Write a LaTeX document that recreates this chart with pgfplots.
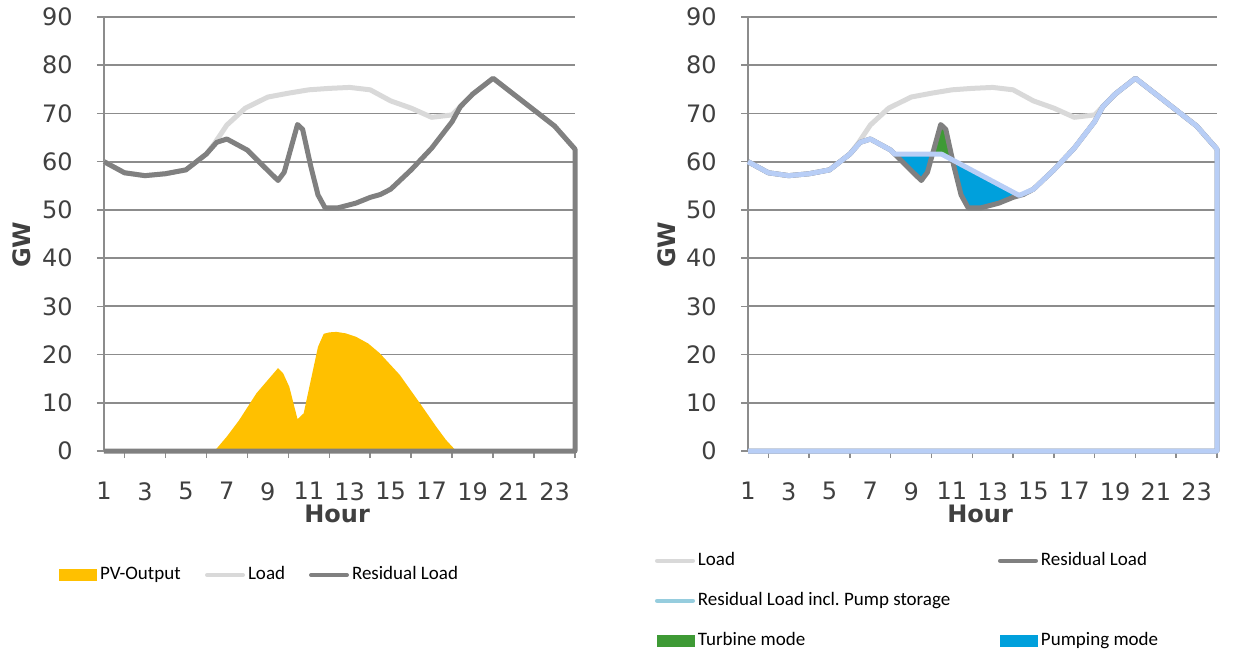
\documentclass[border=0pt]{standalone}
\usepackage{fontspec}
\setmainfont{DejaVu Sans}
\newfontfamily\legfont{Carlito}
\usepackage{pgfplots}
\pgfplotsset{compat=1.18}
\usepackage{pgfplotstable}

\definecolor{gridgray}{RGB}{140,140,140}
\definecolor{ticktext}{RGB}{64,64,64}
\definecolor{residgray}{RGB}{128,128,128}
\definecolor{loadgray}{RGB}{217,217,217}
\definecolor{pvyellow}{RGB}{255,192,0}
\definecolor{pumpline}{RGB}{184,206,246}
\definecolor{pumpleg}{RGB}{150,205,222}
\definecolor{turbgreen}{RGB}{62,154,53}
\definecolor{pumpblue}{RGB}{0,160,220}

% residual load (GW), last two rows close the line along the axis
\pgfplotstableread{
h    gw
1    60.0
2    57.7
3    57.1
4    57.5
5    58.3
6    61.6
6.5  64.0
7    64.7
8    62.4
8.8  59.0
9.5  56.1
9.8  57.8
10.45 67.7
10.7 66.7
11.1 59.0
11.45 53.1
11.8 50.4
12.4 50.4
13.3 51.4
14   52.6
14.5 53.2
15   54.3
16   58.3
17   62.8
18   68.3
18.4 71.4
19   74.0
20   77.3
21   74.0
22   70.7
23   67.4
24   62.6
24   0
1    0
}\resid

\pgfplotstableread{
h    gw
1    60.0
2    57.7
3    57.1
4    57.5
5    58.3
6    61.6
6.4  63.8
7    67.6
7.9  71.1
9    73.4
10   74.2
11   74.9
12   75.2
13   75.4
14   74.9
15   72.6
16   71.1
17   69.2
18   69.7
18.4 71.4
19   74.0
20   77.3
21   74.0
22   70.7
23   67.4
24   62.6
}\load

\pgfplotstableread{
h    gw
1    0
6.4  0
7    3.0
7.6  6.4
8.45 12.0
9.5  17.2
9.75 16.1
10.05 13.3
10.45 6.6
10.75 7.8
11.45 21.6
11.73 24.3
12.0 24.6
12.35 24.7
12.8 24.4
13.3 23.7
13.9 22.3
14.46 20.3
15.44 15.8
16.41 10.0
17.23 5.0
17.7 2.3
18.2 0
24   0
}\pv

% residual load incl. pump storage
\pgfplotstableread{
h    gw
1    60.0
2    57.7
3    57.1
4    57.5
5    58.3
6    61.6
6.5  64.0
7    64.7
8    62.4
8.2  61.55
10.5 61.55
14.3 53.0
15   54.3
16   58.3
17   62.8
18   68.3
18.4 71.4
19   74.0
20   77.3
21   74.0
22   70.7
23   67.4
24   62.6
24   0
1    0
}\pump

\pgfplotsset{
  lineleg/.style={legend image code/.code={%
      \draw[##1, line width=2pt, line cap=round] (0pt,0pt) -- (18pt,0pt);}},
  arealeg/.style={legend image code/.code={%
      \fill[##1, draw=none] (0pt,-3pt) rectangle (19pt,3pt);}},
  basech/.style={
    scale only axis, height=217pt,
    xmin=1, xmax=24, ymin=0, ymax=90,
    axis x line=bottom, axis y line=left,
    axis line style={-, draw=gridgray, line width=1pt},
    xtick={1,3,...,23}, minor xtick={2,4,...,24},
    ytick={0,10,...,90},
    tick align=outside, major tick length=3.5pt, minor tick length=3.5pt,
    major x tick style={draw=none},
    minor x tick style={draw=gridgray, line width=0.75pt},
    ytick style={draw=gridgray, line width=0.75pt},
    ymajorgrids, grid style={draw=gridgray, line width=0.9pt},
    clip=false,
    tick label style={font=\fontsize{12}{14}\selectfont, text=ticktext},
    /pgf/number format/assume math mode=true,
    xticklabel style={anchor=north, inner sep=0pt, yshift=-12pt},
    yticklabel style={anchor=east, inner sep=0pt, xshift=-12pt},
    xlabel={Hour}, ylabel={GW},
    label style={font=\fontsize{12}{14}\selectfont\bfseries, text=ticktext},
    xlabel style={at={(axis description cs:0.495,-0.145)}, anchor=center},
    ylabel style={at={(axis description cs:-0.174,0.475)}, anchor=center},
    legend cell align=left,
    legend style={draw=none, fill=none, inner sep=0pt, outer sep=0pt,
      column sep=0pt,
      nodes={inner sep=1.5pt, text=black, text height=7pt, text depth=2pt,
             font=\legfont\fontsize{9.5}{11}\selectfont}},
  },
}

\begin{document}
\begin{tikzpicture}
\useasboundingbox (0,0) rectangle (627pt,327pt);

\begin{axis}[basech, width=235.5pt, at={(52pt,101.5pt)}, anchor=south west,
  legend columns=3,
  legend style={at={(axis description cs:-0.0955,-0.2857)}, anchor=west}]
\addplot[fill=pvyellow, draw=none, forget plot] table[x=h, y=gw] {\pv} \closedcycle;
\addplot[loadgray, line width=2.5pt, line join=round, forget plot] table[x=h, y=gw] {\load};
\addplot[residgray, line width=2.5pt, line join=round, forget plot] table[x=h, y=gw] {\resid};
\addlegendimage{arealeg, fill=pvyellow}
\addlegendentry{\makebox[51pt][l]{PV-Output}}
\addlegendimage{lineleg, draw=loadgray}
\addlegendentry{\makebox[29pt][l]{Load}}
\addlegendimage{lineleg, draw=residgray}
\addlegendentry{Residual Load}
\end{axis}

\begin{axis}[basech, width=234.5pt, at={(374pt,101.5pt)}, anchor=south west,
  legend columns=2,
  legend style={at={(axis description cs:-0.1983,-0.345)}, anchor=west,
    row sep=8pt}]
% storage operation areas between residual load and the shifted curve
\addplot[fill=pumpblue, draw=none, forget plot] coordinates
  {(8.2,61.55) (10.046,61.55) (9.8,57.8) (9.5,56.1) (8.8,59.0)} -- cycle;
\addplot[fill=turbgreen, draw=none, forget plot] coordinates
  {(10.046,61.55) (10.45,67.7) (10.7,66.7) (11.03,60.36) (10.5,61.55)} -- cycle;
\addplot[fill=pumpblue, draw=none, forget plot] coordinates
  {(11.03,60.36) (14.3,53.0) (14,52.6) (13.3,51.4) (12.4,50.4) (11.8,50.4)
   (11.45,53.1)} -- cycle;
\addplot[loadgray, line width=2.5pt, line join=round, forget plot] table[x=h, y=gw] {\load};
\addplot[residgray, line width=2.5pt, line join=round, forget plot] table[x=h, y=gw] {\resid};
\addplot[pumpline, line width=2.5pt, line join=round, forget plot] table[x=h, y=gw] {\pump};
\addlegendimage{lineleg, draw=loadgray}
\addlegendentry{\makebox[148.5pt][l]{Load}}
\addlegendimage{lineleg, draw=residgray}
\addlegendentry{Residual Load}
\addlegendimage{lineleg, draw=pumpleg}
\addlegendentry{\makebox[148.5pt][l]{Residual Load incl.\ Pump storage}}
\addlegendimage{empty legend}
\addlegendentry{}
\addlegendimage{arealeg, fill=turbgreen}
\addlegendentry{\makebox[148.5pt][l]{Turbine mode}}
\addlegendimage{arealeg, fill=pumpblue}
\addlegendentry{Pumping mode}
\end{axis}
\end{tikzpicture}
\end{document}
